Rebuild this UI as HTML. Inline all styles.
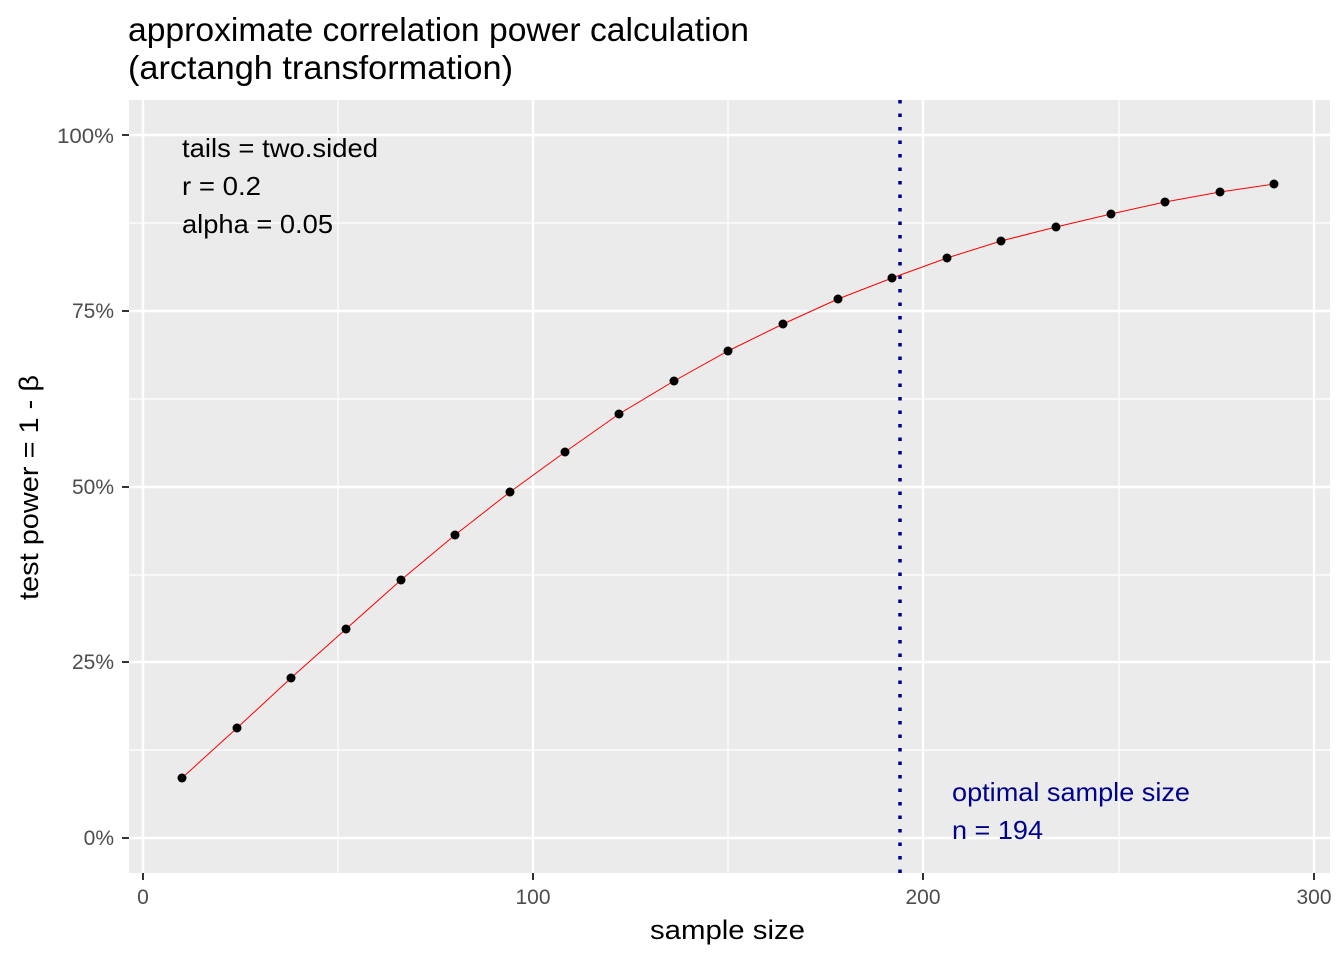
<!DOCTYPE html>
<html><head><meta charset="utf-8"><style>body{margin:0;background:#fff}</style></head>
<body>
<svg width="1344" height="960" xmlns="http://www.w3.org/2000/svg" font-family="Liberation Sans, Arial, sans-serif">
<rect width="1344" height="960" fill="#fff"/>
<text x="128" y="41" font-size="33" fill="#000" textLength="621" lengthAdjust="spacingAndGlyphs">approximate correlation power calculation</text>
<text x="128" y="79" font-size="33" fill="#000" textLength="385" lengthAdjust="spacingAndGlyphs">(arctangh transformation)</text>
<rect x="129" y="100" width="1201" height="773" fill="#ebebeb"/>
<g stroke="#fff" stroke-width="1.2">
<line x1="129" x2="1330" y1="750" y2="750"/><line x1="129" x2="1330" y1="575" y2="575"/>
<line x1="129" x2="1330" y1="399" y2="399"/><line x1="129" x2="1330" y1="223" y2="223"/>
<line x1="338" x2="338" y1="100" y2="873"/><line x1="728" x2="728" y1="100" y2="873"/><line x1="1119" x2="1119" y1="100" y2="873"/>
</g>
<g stroke="#fff" stroke-width="2.4">
<line x1="129" x2="1330" y1="838" y2="838"/><line x1="129" x2="1330" y1="662" y2="662"/>
<line x1="129" x2="1330" y1="487" y2="487"/><line x1="129" x2="1330" y1="311" y2="311"/><line x1="129" x2="1330" y1="135" y2="135"/>
<line x1="143" x2="143" y1="100" y2="873"/><line x1="533" x2="533" y1="100" y2="873"/><line x1="923" x2="923" y1="100" y2="873"/><line x1="1314" x2="1314" y1="100" y2="873"/>
</g>
<line x1="900" x2="900" y1="100" y2="873" stroke="#00008b" stroke-width="3.5" stroke-dasharray="3.5,10"/>
<polyline fill="none" stroke="#ff0000" stroke-width="1" points="182,778 237,728 291,678 346,629 401,580 455,535 510,492 565,452 619,414 674,381 728,351 783,324 838,299 892,278 947,258 1001,241 1056,227 1111,214 1165,202 1220,192 1274,184"/>
<g fill="#000">
<circle cx="182" cy="778" r="4.5"/><circle cx="237" cy="728" r="4.5"/><circle cx="291" cy="678" r="4.5"/><circle cx="346" cy="629" r="4.5"/><circle cx="401" cy="580" r="4.5"/><circle cx="455" cy="535" r="4.5"/><circle cx="510" cy="492" r="4.5"/><circle cx="565" cy="452" r="4.5"/><circle cx="619" cy="414" r="4.5"/><circle cx="674" cy="381" r="4.5"/><circle cx="728" cy="351" r="4.5"/><circle cx="783" cy="324" r="4.5"/><circle cx="838" cy="299" r="4.5"/><circle cx="892" cy="278" r="4.5"/><circle cx="947" cy="258" r="4.5"/><circle cx="1001" cy="241" r="4.5"/><circle cx="1056" cy="227" r="4.5"/><circle cx="1111" cy="214" r="4.5"/><circle cx="1165" cy="202" r="4.5"/><circle cx="1220" cy="192" r="4.5"/><circle cx="1274" cy="184" r="4.5"/>
</g>
<g font-size="26" fill="#000">
<text x="182" y="157" textLength="196" lengthAdjust="spacingAndGlyphs">tails = two.sided</text>
<text x="182" y="195" textLength="79" lengthAdjust="spacingAndGlyphs">r = 0.2</text>
<text x="182" y="233" textLength="151" lengthAdjust="spacingAndGlyphs">alpha = 0.05</text>
</g>
<g font-size="26" fill="#00008b">
<text x="952" y="801" textLength="238" lengthAdjust="spacingAndGlyphs">optimal sample size</text>
<text x="952" y="839" textLength="91" lengthAdjust="spacingAndGlyphs">n = 194</text>
</g>
<g stroke="#333" stroke-width="2">
<line x1="122" x2="129" y1="838" y2="838"/><line x1="122" x2="129" y1="662" y2="662"/><line x1="122" x2="129" y1="487" y2="487"/><line x1="122" x2="129" y1="311" y2="311"/><line x1="122" x2="129" y1="135" y2="135"/>
<line x1="143" x2="143" y1="873" y2="880"/><line x1="533" x2="533" y1="873" y2="880"/><line x1="923" x2="923" y1="873" y2="880"/><line x1="1314" x2="1314" y1="873" y2="880"/>
</g>
<g font-size="21" fill="#4d4d4d" text-anchor="end">
<text x="114" y="845">0%</text><text x="114" y="669">25%</text><text x="114" y="494">50%</text><text x="114" y="318">75%</text><text x="114" y="143" textLength="57" lengthAdjust="spacingAndGlyphs">100%</text>
</g>
<g font-size="21" fill="#4d4d4d" text-anchor="middle">
<text x="143" y="904">0</text><text x="533" y="904">100</text><text x="923" y="904">200</text><text x="1314" y="904">300</text>
</g>
<text x="650" y="939" font-size="27" fill="#000" textLength="155" lengthAdjust="spacingAndGlyphs">sample size</text>
<text transform="translate(38,600) rotate(-90)" font-size="27" fill="#000" textLength="225" lengthAdjust="spacingAndGlyphs">test power = 1 - β</text>
</svg>
</body></html>
